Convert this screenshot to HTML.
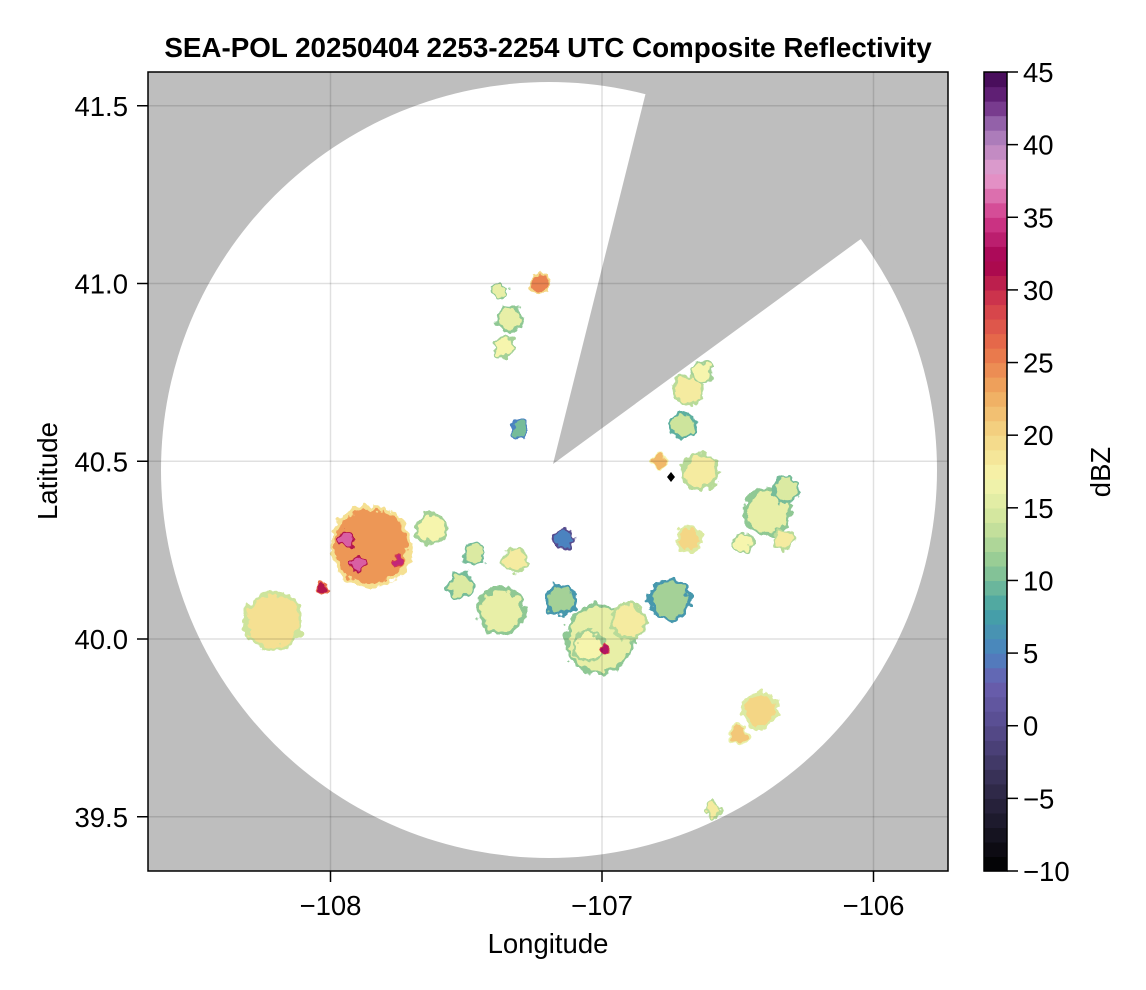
<!DOCTYPE html>
<html><head><meta charset="utf-8">
<style>
html,body{margin:0;padding:0;background:#fff;}
svg{display:block;font-family:"Liberation Sans",sans-serif;}
</style></head>
<body>
<svg id="chart" width="1146" height="990" viewBox="0 0 1146 990" xmlns="http://www.w3.org/2000/svg">
<defs>
<clipPath id="plotclip"><rect x="148" y="72" width="800" height="799"/></clipPath>
<filter id="blob" x="-50%" y="-50%" width="200%" height="200%">
<feTurbulence type="fractalNoise" baseFrequency="0.12" numOctaves="2" seed="5" result="n"/>
<feDisplacementMap in="SourceGraphic" in2="n" scale="12" xChannelSelector="R" yChannelSelector="G"/>
</filter>
</defs>
<text x="548" y="57" text-anchor="middle" font-size="27.8" font-weight="bold">SEA-POL 20250404 2253-2254 UTC Composite Reflectivity</text>
<g clip-path="url(#plotclip)">
<rect x="148" y="72" width="800" height="799" fill="#bebebe"/>
<ellipse cx="549" cy="470" rx="388" ry="388" fill="#fff"/>
<polygon points="553,464 645,96 660,40 960,40 960,170 858,241" fill="#bebebe"/>
<g id="echoes" filter="url(#blob)"></g>
<g id="grid"></g>
<path d="M671,472 l4,5 l-4,5 l-4,-5z" fill="#000"/>
</g>
<rect x="148" y="72" width="800" height="799" fill="none" stroke="#000" stroke-width="1.5"/>
<g id="axes"></g>
<text x="548" y="953" text-anchor="middle" font-size="27.5">Longitude</text>
<text transform="translate(57,471) rotate(-90)" text-anchor="middle" font-size="27.5">Latitude</text>
<g id="cbar"></g>
<text transform="translate(1110,472) rotate(-90)" text-anchor="middle" font-size="27.5">dBZ</text>
</svg>
<script>
// ---- data ----
const cellLon = [-107.85,-108.21,-107.63,-107.37,-107.32,-107.01,-107.15,-106.75,-106.68,-106.64,-106.39,-106.68,-106.42,-106.50,-106.59,-107.34,-107.23,-107.14,-107.30,-106.79,-107.94,-107.90,-107.75,-108.03,-106.99,-107.47,-107.52,-106.32,-107.36,-107.38,-106.70,-106.63,-106.90,-107.05,-106.33,-106.48];
const cellLat = [40.26,40.05,40.31,40.08,40.22,40.00,40.11,40.11,40.28,40.47,40.36,40.70,39.80,39.73,39.52,40.90,41.00,40.28,40.59,40.50,40.28,40.21,40.22,40.14,39.97,40.24,40.15,40.42,40.82,40.98,40.60,40.75,40.05,39.98,40.28,40.27];
const cellRad = [0.15,0.11,0.06,0.09,0.05,0.13,0.06,0.08,0.05,0.07,0.09,0.06,0.07,0.04,0.03,0.05,0.04,0.04,0.035,0.03,0.03,0.03,0.02,0.025,0.02,0.04,0.05,0.05,0.04,0.03,0.05,0.04,0.07,0.06,0.04,0.04];
const cellDbz = [24,19,17,16,18,16,12,12,20,18,16,18,20,21,18,16,25,5,10,22,36,36,34,31,33,15,15,15,17,16,14,17,18,17,18,17];
const lonTicks = [-108,-107,-106];
const latTicks = [39.5,40.0,40.5,41.0,41.5];
const cbTicks = [-10,-5,0,5,10,15,20,25,30,35,40,45];
const cbMin = -10, cbMax = 45;
const cmapStops = [[-10,"#000000"],[-5,"#2a2540"],[0,"#574c8e"],[3,"#6a5fb0"],[5,"#4b83c0"],[8,"#44a3a4"],[11,"#8fc894"],[14,"#cde49c"],[17,"#f6f5ad"],[20,"#f4d685"],[23,"#efaa5e"],[26,"#e8704a"],[29,"#d43d4b"],[32,"#a4004f"],[35,"#d23c8c"],[38,"#e6a1d0"],[41,"#a074b6"],[43,"#6a2880"],[45,"#3e0550"]];
// ---- scales ----
const X = lon => 602 + (lon + 107) * 271.5;
const Y = lat => 639 - (lat - 40) * 355.5;
const CB = v => 871 - (v - cbMin) / (cbMax - cbMin) * 799;
function hex(c){return [1,3,5].map(i=>parseInt(c.substr(i,2),16));}
function cmap(v){
  for(let i=0;i<cmapStops.length-1;i++){
    const [a,ca]=cmapStops[i],[b,cb]=cmapStops[i+1];
    if(v>=a&&v<=b){const t=(v-a)/(b-a),A=hex(ca),B=hex(cb);
      return "rgb("+A.map((x,k)=>Math.round(x+(B[k]-x)*t)).join(",")+")";}
  }
  return cmapStops[cmapStops.length-1][1];
}
const NS="http://www.w3.org/2000/svg";
function mk(tag,attrs,parent){const e=document.createElementNS(NS,tag);for(const k in attrs)e.setAttribute(k,attrs[k]);parent.appendChild(e);return e;}
// echoes
const eg=document.getElementById("echoes");
const order=cellDbz.map((d,i)=>i).sort((a,b)=>cellRad[b]-cellRad[a]);
order.forEach(i=>{
  const rx=cellRad[i]*271.5, ry=cellRad[i]*355.5*0.78;
  const outer=mk("ellipse",{cx:X(cellLon[i]),cy:Y(cellLat[i]),rx:rx,ry:ry,fill:cmap(Math.max(cellDbz[i]-5,cbMin))},eg);
  
  
  const inner=mk("ellipse",{cx:X(cellLon[i]),cy:Y(cellLat[i]),rx:Math.max(rx-4,rx*0.8),ry:Math.max(ry-4,ry*0.8),fill:cmap(cellDbz[i])},eg);
  
  
});
// grid
const gg=document.getElementById("grid");
lonTicks.forEach(v=>{const l=mk("line",{x1:X(v),x2:X(v),y1:72,y2:871,stroke:"rgba(0,0,0,0.12)","stroke-width":1.5},gg);
  
  });
latTicks.forEach(v=>{const l=mk("line",{x1:148,x2:948,y1:Y(v),y2:Y(v),stroke:"rgba(0,0,0,0.12)","stroke-width":1.5},gg);
  
  });
// axes
const ag=document.getElementById("axes");
lonTicks.forEach(v=>{
  const t=mk("line",{x1:X(v),x2:X(v),y1:871,y2:882,stroke:"#000","stroke-width":1.5},ag);
  
  
  const tx=mk("text",{x:X(v),y:915,"text-anchor":"middle","font-size":27.5},ag);
  tx.textContent="\u2212"+Math.abs(v);
  
  
});
latTicks.forEach(v=>{
  const t=mk("line",{x1:137,x2:148,y1:Y(v),y2:Y(v),stroke:"#000","stroke-width":1.5},ag);
  
  
  const tx=mk("text",{x:128,y:Y(v)+10,"text-anchor":"end","font-size":27.5},ag);
  tx.textContent=v.toFixed(1);
  
  
});
// colorbar
const cg=document.getElementById("cbar");
for(let v=cbMin;v<cbMax;v++){
  const r=mk("rect",{x:984,y:CB(v+1),width:23,height:CB(v)-CB(v+1)+0.6,fill:cmap(v+0.5)},cg);
  
  
}
const fr=mk("rect",{x:984,y:72,width:23,height:799,fill:"none",stroke:"#000","stroke-width":1.5},cg);


cbTicks.forEach(v=>{
  const t=mk("line",{x1:1007,x2:1018,y1:CB(v),y2:CB(v),stroke:"#000","stroke-width":1.5},cg);
  
  
  const tx=mk("text",{x:1023,y:CB(v)+10,"font-size":27.5},cg);
  tx.textContent=(v<0?"\u2212":"")+Math.abs(v);
  
  
});
</script>
</body></html>
